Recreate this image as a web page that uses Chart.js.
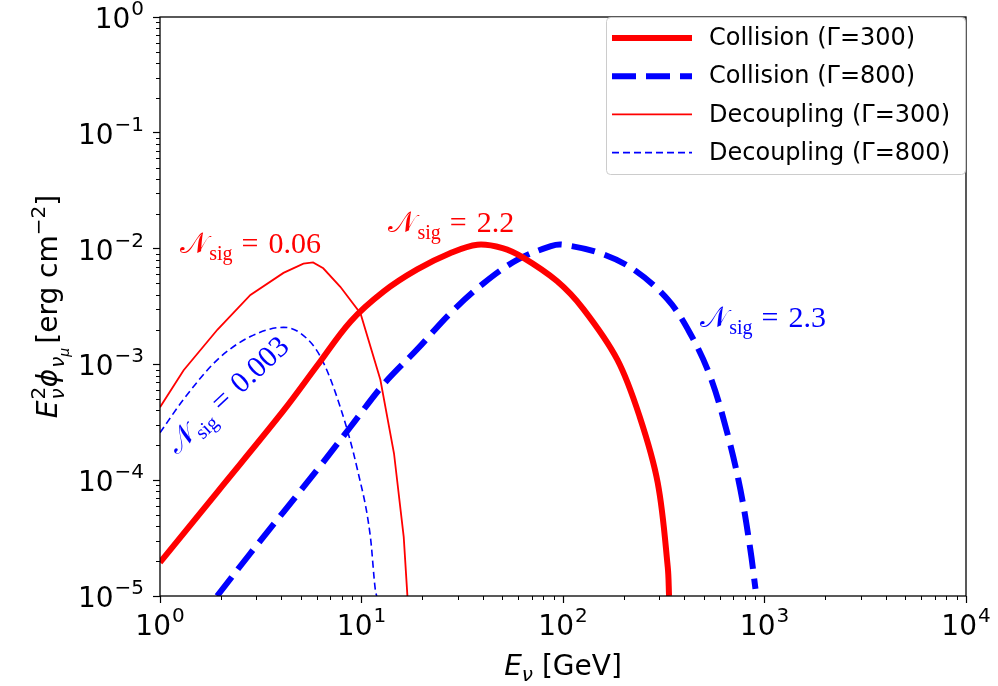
<!DOCTYPE html>
<html>
<head>
<meta charset="utf-8">
<script src="https://cdn.jsdelivr.net/npm/chart.js@4.4.1/dist/chart.umd.min.js"></script>
<style>
html, body { margin: 0; padding: 0; background: #fff; }
</style>
</head>
<body>
<canvas id="fluxChart" width="998" height="686"></canvas>
<script>
// Collision, Gamma = 300 (thick red)
const collision300E = [1, 1.93, 4.10, 6.03, 8.81, 12.9, 18.9, 27.5, 37.6, 50.1, 63.1, 93.3, 126, 186, 240, 295, 331, 336];
const collision300F = [1.95e-5, 7.94e-5, 3.98e-4, 9.77e-4, 2.34e-3, 4.27e-3, 6.61e-3, 9.12e-3, 1.08e-2, 1.01e-2, 8.41e-3, 5.25e-3, 3.02e-3, 1.10e-3, 3.55e-4, 9.55e-5, 1.78e-5, 1e-5];

// Collision, Gamma = 800 (thick blue dashed)
const collision800E = [1.92, 2.81, 6.03, 8.81, 12.9, 18.9, 27.5, 40.3, 58.9, 87.1, 100, 153, 224, 331, 427, 537, 653, 759, 851, 902];
const collision800F = [1e-5, 2.34e-5, 1.23e-4, 2.88e-4, 6.76e-4, 1.35e-3, 2.75e-3, 5.01e-3, 7.94e-3, 1.05e-2, 1.08e-2, 9.12e-3, 6.61e-3, 3.63e-3, 1.86e-3, 7.94e-4, 2.57e-4, 8.32e-5, 2.51e-5, 1.15e-5];

// Decoupling, Gamma = 300 (thin red)
const decoupling300E = [1, 1.31, 1.93, 2.81, 4.10, 5.15, 5.75, 6.46, 7.85, 9.89, 12.4, 14.5, 16.2, 16.9];
const decoupling300F = [4.27e-4, 8.9e-4, 2.0e-3, 3.98e-3, 6.17e-3, 7.41e-3, 7.59e-3, 6.76e-3, 4.68e-3, 2.75e-3, 7.41e-4, 1.70e-4, 3.24e-5, 1e-5];

// Decoupling, Gamma = 800 (thin blue dashed)
const decoupling800E = [1, 1.31, 1.93, 2.81, 4.10, 4.98, 6.25, 7.85, 9.55, 11.07, 11.72, 11.9];
const decoupling800F = [2.57e-4, 5.0e-4, 1.10e-3, 1.74e-3, 2.09e-3, 1.86e-3, 1.17e-3, 4.27e-4, 1.23e-4, 3.24e-5, 1.12e-5, 1e-5];

const seriesLabels = ["Collision (\u0393=300)", "Collision (\u0393=800)", "Decoupling (\u0393=300)", "Decoupling (\u0393=800)"];

// tick labels: base and exponent
const xTickValues = [1, 10, 100, 1000, 10000];
const xTickExps = ["0", "1", "2", "3", "4"];
const yTickValues = [1e-5, 1e-4, 1e-3, 1e-2, 1e-1, 1];
const yTickExps = ["\u22125", "\u22124", "\u22123", "\u22122", "\u22121", "0"];

// N_sig notes: text, energy, flux
const noteTexts = ["0.06", "2.2", "2.3", "0.003"];
const noteE = [1.26, 13.6, 480, 1.21];
const noteF = [9.2e-3, 1.4e-2, 2.12e-3, 1.66e-4];

const RED = "#ff0000";
const BLUE = "#0000ff";

function pts(e, f) {
    return e.map((v, i) => ({ x: v, y: f[i] }));
}

function logTicks(lo, hi) {
    let out = [];
    for (let d = lo; d < hi; d++) {
        for (let m = 1; m < 10; m++) {
            out.push({ value: m * Math.pow(10, d) });
        }
    }
    out.push({ value: Math.pow(10, hi) });
    return out;
}

function isMajor(v) {
    let e = Math.log10(v);
    return Math.abs(e - Math.round(e)) < 1e-9;
}

// draws a run of text pieces, returns the end x
function drawPieces(ctx, pieces, x0) {
    let x = x0;
    for (const p of pieces) {
        ctx.font = p.font;
        ctx.fillText(p.t, x, p.dy || 0);
        if (!p.noAdvance) x += ctx.measureText(p.t).width + (p.gap || 0);
    }
    return x;
}

function piecesWidth(ctx, pieces) {
    let w = 0;
    for (const p of pieces) {
        ctx.font = p.font;
        if (!p.noAdvance) w += ctx.measureText(p.t).width + (p.gap || 0);
    }
    return w;
}

const sans = "'DejaVu Sans'";

function powerPieces(exp) {
    return [
        { t: "10", font: "28px " + sans, gap: 1 },
        { t: exp, font: "20px " + sans, dy: -13 }
    ];
}

function drawNote(ctx, x, y, value, color, angle) {
    ctx.save();
    ctx.translate(x, y);
    ctx.rotate(angle);
    ctx.fillStyle = color;
    ctx.textBaseline = "alphabetic";
    ctx.textAlign = "left";
    drawPieces(ctx, [
        { t: "\ud835\udca9", font: "29px 'DejaVu Serif', 'DejaVu Sans', 'Liberation Serif'", gap: 1 },
        { t: "sig", font: "20px 'Liberation Serif'", dy: 7, gap: 9 },
        { t: "=", font: "30px 'Liberation Serif'", gap: 10 },
        { t: value, font: "30px 'Liberation Serif'" }
    ], 0);
    ctx.restore();
}

const decor = {
    id: "decor",
    afterDatasetsDraw(chart) {
        const ctx = chart.ctx;
        const a = chart.chartArea;
        const xs = chart.scales.x;
        const ys = chart.scales.y;
        ctx.save();

        // minor ticks
        ctx.strokeStyle = "#000";
        ctx.lineWidth = 1;
        ctx.beginPath();
        xs.ticks.forEach(t => {
            if (isMajor(t.value)) return;
            const px = Math.round(xs.getPixelForValue(t.value)) + 0.5;
            ctx.moveTo(px, a.bottom);
            ctx.lineTo(px, a.bottom + 4);
        });
        ys.ticks.forEach(t => {
            if (isMajor(t.value)) return;
            const py = Math.round(ys.getPixelForValue(t.value)) + 0.5;
            ctx.moveTo(a.left, py);
            ctx.lineTo(a.left - 4, py);
        });
        ctx.stroke();

        // frame
        ctx.lineWidth = 1.3;
        ctx.strokeRect(a.left, a.top, a.right - a.left, a.bottom - a.top);

        // tick labels with superscript exponents
        ctx.fillStyle = "#000";
        ctx.textBaseline = "alphabetic";
        ctx.textAlign = "left";
        xTickValues.forEach((v, i) => {
            const p = powerPieces(xTickExps[i]);
            const w = piecesWidth(ctx, p);
            ctx.save();
            ctx.translate(xs.getPixelForValue(v) - w / 2, a.bottom + 39);
            drawPieces(ctx, p, 0);
            ctx.restore();
        });
        yTickValues.forEach((v, i) => {
            const p = powerPieces(yTickExps[i]);
            const w = piecesWidth(ctx, p);
            ctx.save();
            ctx.translate(a.left - 16 - w, ys.getPixelForValue(v) + 11);
            drawPieces(ctx, p, 0);
            ctx.restore();
        });

        // N_sig notes
        const noteColors = [RED, RED, BLUE, BLUE];
        const noteAngles = [0, 0, 0, -43 * Math.PI / 180];
        noteTexts.forEach((txt, i) => {
            drawNote(ctx, xs.getPixelForValue(noteE[i]), ys.getPixelForValue(noteF[i]), txt, noteColors[i], noteAngles[i]);
        });

        // legend box
        const bw = 360, bh = 158;
        const bx = a.right - bw, by = a.top;
        ctx.beginPath();
        ctx.roundRect(bx + 0.5, by + 0.5, bw - 1, bh - 1, 4);
        ctx.fillStyle = "rgba(255,255,255,0.8)";
        ctx.fill();
        ctx.strokeStyle = "#cccccc";
        ctx.lineWidth = 1;
        ctx.stroke();

        ctx.textBaseline = "middle";
        ctx.font = "24px " + sans;
        chart.data.datasets.forEach((ds, i) => {
            const ry = by + 21 + i * 38.2;
            ctx.save();
            ctx.strokeStyle = ds.borderColor;
            ctx.lineWidth = ds.borderWidth;
            ctx.setLineDash(ds.borderDash || []);
            ctx.beginPath();
            ctx.moveTo(bx + 6, ry);
            ctx.lineTo(bx + 86, ry);
            ctx.stroke();
            ctx.restore();
            ctx.fillStyle = "#000";
            ctx.fillText(ds.label, bx + 103, ry + 1);
        });

        // x title
        ctx.fillStyle = "#000";
        ctx.textBaseline = "alphabetic";
        const xTitle = [
            { t: "E", font: "italic 28px " + sans },
            { t: "\u03bd", font: "italic 20px " + sans, dy: 6 },
            { t: " [GeV]", font: "28px " + sans }
        ];
        const xw = piecesWidth(ctx, xTitle);
        ctx.save();
        ctx.translate((a.left + a.right) / 2 - xw / 2, 675);
        drawPieces(ctx, xTitle, 0);
        ctx.restore();

        // y title
        const yTitle = [
            { t: "E", font: "italic 28px " + sans, gap: 1 },
            { t: "2", font: "20px " + sans, dy: -12, noAdvance: true },
            { t: "\u03bd", font: "italic 20px " + sans, dy: 7, gap: 1 },
            { t: "\u03d5", font: "italic 28px " + sans, gap: 1 },
            { t: "\u03bd", font: "italic 20px " + sans, dy: 7 },
            { t: "\u03bc", font: "italic 14px " + sans, dy: 12, gap: 4 },
            { t: "[erg cm", font: "28px " + sans },
            { t: "\u22122", font: "20px " + sans, dy: -12 },
            { t: "]", font: "28px " + sans }
        ];
        const yw = piecesWidth(ctx, yTitle);
        ctx.save();
        ctx.translate(57, (a.top + a.bottom) / 2);
        ctx.rotate(-Math.PI / 2);
        drawPieces(ctx, yTitle, -yw / 2);
        ctx.restore();

        ctx.restore();
    }
};

const tickGrid = {
    drawOnChartArea: false,
    tickLength: 7,
    tickWidth: 1.2,
    tickColor: c => (c.tick && isMajor(c.tick.value)) ? "#000" : "rgba(0,0,0,0)"
};

new Chart(document.getElementById("fluxChart"), {
    type: "line",
    data: {
        datasets: [
            {
                label: seriesLabels[0],
                data: pts(collision300E, collision300F),
                borderColor: RED,
                borderWidth: 6,
                tension: 0.35
            },
            {
                label: seriesLabels[1],
                data: pts(collision800E, collision800F),
                borderColor: BLUE,
                borderWidth: 6,
                borderDash: [24, 10],
                tension: 0.35
            },
            {
                label: seriesLabels[2],
                data: pts(decoupling300E, decoupling300F),
                borderColor: RED,
                borderWidth: 1.8
            },
            {
                label: seriesLabels[3],
                data: pts(decoupling800E, decoupling800F),
                borderColor: BLUE,
                borderWidth: 1.6,
                borderDash: [7, 4],
                cubicInterpolationMode: "monotone"
            }
        ]
    },
    options: {
        responsive: false,
        animation: false,
        devicePixelRatio: 1,
        layout: { padding: { left: 0, top: 17, right: 32, bottom: 0 } },
        elements: { point: { radius: 0 }, line: { borderCapStyle: "butt" } },
        plugins: { legend: { display: false }, tooltip: { enabled: false } },
        scales: {
            x: {
                type: "logarithmic",
                min: 1,
                max: 1e4,
                afterBuildTicks: s => { s.ticks = logTicks(0, 4); },
                afterFit: s => { s.height = 90; },
                border: { display: false },
                grid: tickGrid,
                ticks: { display: false, autoSkip: false, maxRotation: 0 }
            },
            y: {
                type: "logarithmic",
                min: 1e-5,
                max: 1,
                afterBuildTicks: s => { s.ticks = logTicks(-5, 0); },
                afterFit: s => { s.width = 160; },
                border: { display: false },
                grid: tickGrid,
                ticks: { display: false, autoSkip: false }
            }
        }
    },
    plugins: [decor]
});
</script>
</body>
</html>
